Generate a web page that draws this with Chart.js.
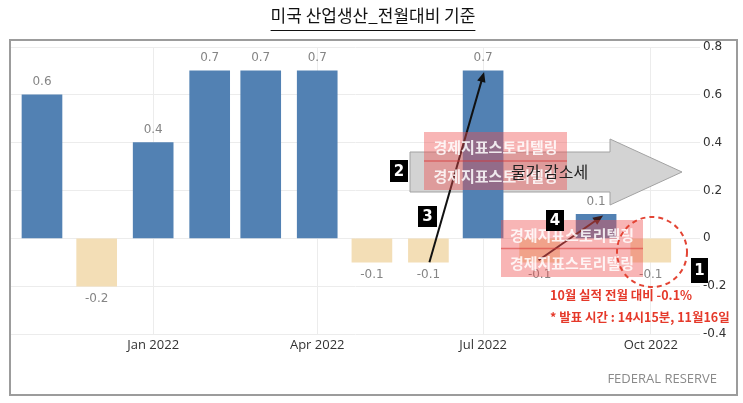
<!DOCTYPE html>
<html>
<head>
<meta charset="utf-8">
<script src="https://cdn.jsdelivr.net/npm/chart.js@4"></script>
<style>
  html, body { margin: 0; padding: 0; background: #fff; }
  #wrap { position: relative; width: 743px; height: 403px; }
</style>
</head>
<body>
<div id="wrap"><canvas id="barChart" width="743" height="403"></canvas></div>
<script>
// data
const months = ['2021-11', '2021-12', '2022-01', '2022-02', '2022-03', '2022-04',
                '2022-05', '2022-06', '2022-07', '2022-08', '2022-09', '2022-10'];
const values = [0.6, -0.2, 0.4, 0.7, 0.7, 0.7, -0.1, -0.1, 0.7, -0.1, 0.1, -0.1];
const tickMonths = ['2022-01', '2022-04', '2022-07', '2022-10'];
const tickLabels = ['Jan 2022', 'Apr 2022', 'Jul 2022', 'Oct 2022'];
const yTicks = [-0.4, -0.2, 0, 0.2, 0.4, 0.6, 0.8];

const titleText = '미국 산업생산_전월대비 기준';
const sourceText = 'FEDERAL RESERVE';
const noteLines = ['10월 실적 전월 대비 -0.1%', '* 발표 시간 : 14시15분, 11월16일'];
const watermark = '경제지표스토리텔링';

// days since first month, so bars sit on real dates like the original
function dayOf(m) {
    const [y, mo] = m.split('-').map(Number);
    return (Date.UTC(y, mo - 1, 1) - Date.UTC(2021, 10, 1)) / 86400000;
}

const points = months.map((m, i) => ({ x: dayOf(m), y: values[i] }));
const colors = values.map(v => v >= 0 ? '#5281b3' : '#f3deb6');

const KR = '"Noto Sans CJK KR", "Noto Sans", sans-serif';

function arrowLine(ctx, x1, y1, x2, y2, color) {
    const a = Math.atan2(y2 - y1, x2 - x1);
    ctx.save();
    ctx.strokeStyle = color; ctx.fillStyle = color; ctx.lineWidth = 2;
    ctx.beginPath(); ctx.moveTo(x1, y1);
    ctx.lineTo(x2 - 8 * Math.cos(a), y2 - 8 * Math.sin(a)); ctx.stroke();
    ctx.beginPath(); ctx.moveTo(x2, y2);
    ctx.lineTo(x2 - 11 * Math.cos(a - 0.4), y2 - 11 * Math.sin(a - 0.4));
    ctx.lineTo(x2 - 11 * Math.cos(a + 0.4), y2 - 11 * Math.sin(a + 0.4));
    ctx.closePath(); ctx.fill();
    ctx.restore();
}

function numBox(ctx, x, y, w, h, txt) {
    ctx.fillStyle = '#000';
    ctx.fillRect(x, y, w, h);
    ctx.fillStyle = '#fff';
    ctx.font = 'bold 15px "DejaVu Sans", sans-serif';
    ctx.textAlign = 'center'; ctx.textBaseline = 'middle';
    ctx.fillText(txt, x + w / 2, y + h / 2 + 1);
}

function stamp(ctx, x, y, w, h) {
    ctx.fillStyle = 'rgba(238, 78, 78, 0.42)';
    ctx.fillRect(x, y, w, h);
    ctx.strokeStyle = 'rgba(215, 55, 55, 0.55)';
    ctx.lineWidth = 1.5;
    ctx.beginPath(); ctx.moveTo(x, y + h / 2); ctx.lineTo(x + w, y + h / 2); ctx.stroke();
    ctx.fillStyle = 'rgba(255, 255, 255, 0.85)';
    ctx.font = 'bold 15px ' + KR;
    ctx.textAlign = 'center'; ctx.textBaseline = 'middle';
    ctx.fillText(watermark, x + w / 2, y + h / 4 + 1);
    ctx.fillText(watermark, x + w / 2, y + 3 * h / 4 + 1);
}

const decor = {
    id: 'decor',
    beforeDraw(chart) {
        const ctx = chart.ctx;
        ctx.save();
        // frame
        ctx.strokeStyle = '#9c9c9c'; ctx.lineWidth = 2;
        ctx.strokeRect(10, 40, 727, 355);
        // title + underline
        ctx.fillStyle = '#111';
        ctx.font = '17px ' + KR;
        ctx.textAlign = 'center'; ctx.textBaseline = 'middle';
        ctx.fillText(titleText, 373, 16);
        const w = ctx.measureText(titleText).width;
        ctx.strokeStyle = '#111'; ctx.lineWidth = 1;
        ctx.beginPath(); ctx.moveTo(373 - w / 2, 30.5); ctx.lineTo(373 + w / 2, 30.5); ctx.stroke();
        ctx.restore();
    },
    beforeDatasetsDraw(chart) {
        // big gray arrow sits behind the bars
        const ctx = chart.ctx;
        ctx.save();
        ctx.fillStyle = '#d3d3d3'; ctx.strokeStyle = '#a2a2a2'; ctx.lineWidth = 1;
        ctx.beginPath();
        ctx.moveTo(410, 152); ctx.lineTo(610, 152); ctx.lineTo(610, 139);
        ctx.lineTo(682, 172); ctx.lineTo(610, 205); ctx.lineTo(610, 192);
        ctx.lineTo(410, 192); ctx.closePath();
        ctx.fill(); ctx.stroke();
        ctx.restore();
    },
    afterDatasetsDraw(chart) {
        const ctx = chart.ctx;
        const xs = chart.scales.x, ys = chart.scales.y;
        const meta = chart.getDatasetMeta(0);
        ctx.save();
        // value labels
        ctx.font = '12px "DejaVu Sans", sans-serif';
        ctx.fillStyle = '#858585';
        ctx.textAlign = 'center'; ctx.textBaseline = 'middle';
        meta.data.forEach((bar, i) => {
            const v = values[i];
            ctx.fillText(v.toFixed(1), bar.x, v >= 0 ? bar.y - 13 : bar.y + 13);
        });
        // source
        ctx.font = '13px "Open Sans", sans-serif';
        ctx.fillStyle = '#8a8a8a';
        ctx.textAlign = 'right';
        ctx.fillText(sourceText, 717, 379);

        // pointer lines
        const xJun = xs.getPixelForValue(dayOf('2022-06'));
        const xJul = xs.getPixelForValue(dayOf('2022-07'));
        const xAug = xs.getPixelForValue(dayOf('2022-08'));
        const xSep = xs.getPixelForValue(dayOf('2022-09'));
        arrowLine(ctx, xJun + 1, ys.getPixelForValue(-0.1), xJul + 1, ys.getPixelForValue(0.7) + 1, '#111');
        arrowLine(ctx, xAug - 1, ys.getPixelForValue(-0.1) - 2, xSep + 7, ys.getPixelForValue(0.1) + 1, '#3a1a1a');

        // watermarks
        stamp(ctx, 424, 132, 143, 58);
        stamp(ctx, 501, 220, 142, 57);

        // arrow caption
        ctx.fillStyle = '#222';
        ctx.font = '16px ' + KR;
        ctx.textAlign = 'left'; ctx.textBaseline = 'middle';
        ctx.fillText('물가 감소세', 511, 172);

        // dashed circle around the last bar
        ctx.strokeStyle = '#e34434'; ctx.lineWidth = 2;
        ctx.setLineDash([5, 4]);
        ctx.beginPath(); ctx.arc(652, 252, 35, 0, Math.PI * 2); ctx.stroke();
        ctx.setLineDash([]);

        // number boxes
        numBox(ctx, 390, 160, 18, 22, '2');
        numBox(ctx, 418, 206, 19, 21, '3');
        numBox(ctx, 546, 210, 18, 21, '4');
        numBox(ctx, 691, 258, 17, 25, '1');

        // red note
        ctx.fillStyle = '#e5392a';
        ctx.font = 'bold 12.5px ' + KR;
        ctx.textAlign = 'left'; ctx.textBaseline = 'middle';
        ctx.fillText(noteLines[0], 550, 295);
        ctx.fillText(noteLines[1], 550, 317);
        ctx.restore();
    }
};

new Chart(document.getElementById('barChart').getContext('2d'), {
    type: 'bar',
    data: {
        datasets: [{ data: points, backgroundColor: colors, barThickness: 40, borderWidth: 0 }]
    },
    options: {
        responsive: false,
        animation: false,
        devicePixelRatio: 1,
        layout: { padding: { left: 11, top: 47, right: 0, bottom: 0 } },
        plugins: { legend: { display: false }, tooltip: { enabled: false }, title: { display: false } },
        scales: {
            x: {
                type: 'linear',
                offset: false,
                min: -17, max: 361,
                afterBuildTicks: axis => { axis.ticks = tickMonths.map(m => ({ value: dayOf(m) })); },
                afterFit: axis => { axis.height = 69; },
                grid: { color: '#ececec', drawTicks: false, offset: false },
                border: { display: false },
                ticks: {
                    autoSkip: false, maxRotation: 0, padding: 3,
                    color: '#333',
                    font: { family: '"Open Sans", sans-serif', size: 13 },
                    callback: (v, i) => tickLabels[i]
                }
            },
            y: {
                position: 'right',
                min: -0.4, max: 0.8,
                afterBuildTicks: axis => { axis.ticks = yTicks.map(v => ({ value: v })); },
                afterFit: axis => { axis.width = 43; },
                grid: { color: '#ececec', drawTicks: false },
                border: { display: false },
                ticks: {
                    padding: 3,
                    color: '#333',
                    font: { family: '"DejaVu Sans", sans-serif', size: 12 },
                    callback: v => v === 0 ? '0' : v.toFixed(1)
                }
            }
        }
    },
    plugins: [decor]
});
</script>
</body>
</html>
